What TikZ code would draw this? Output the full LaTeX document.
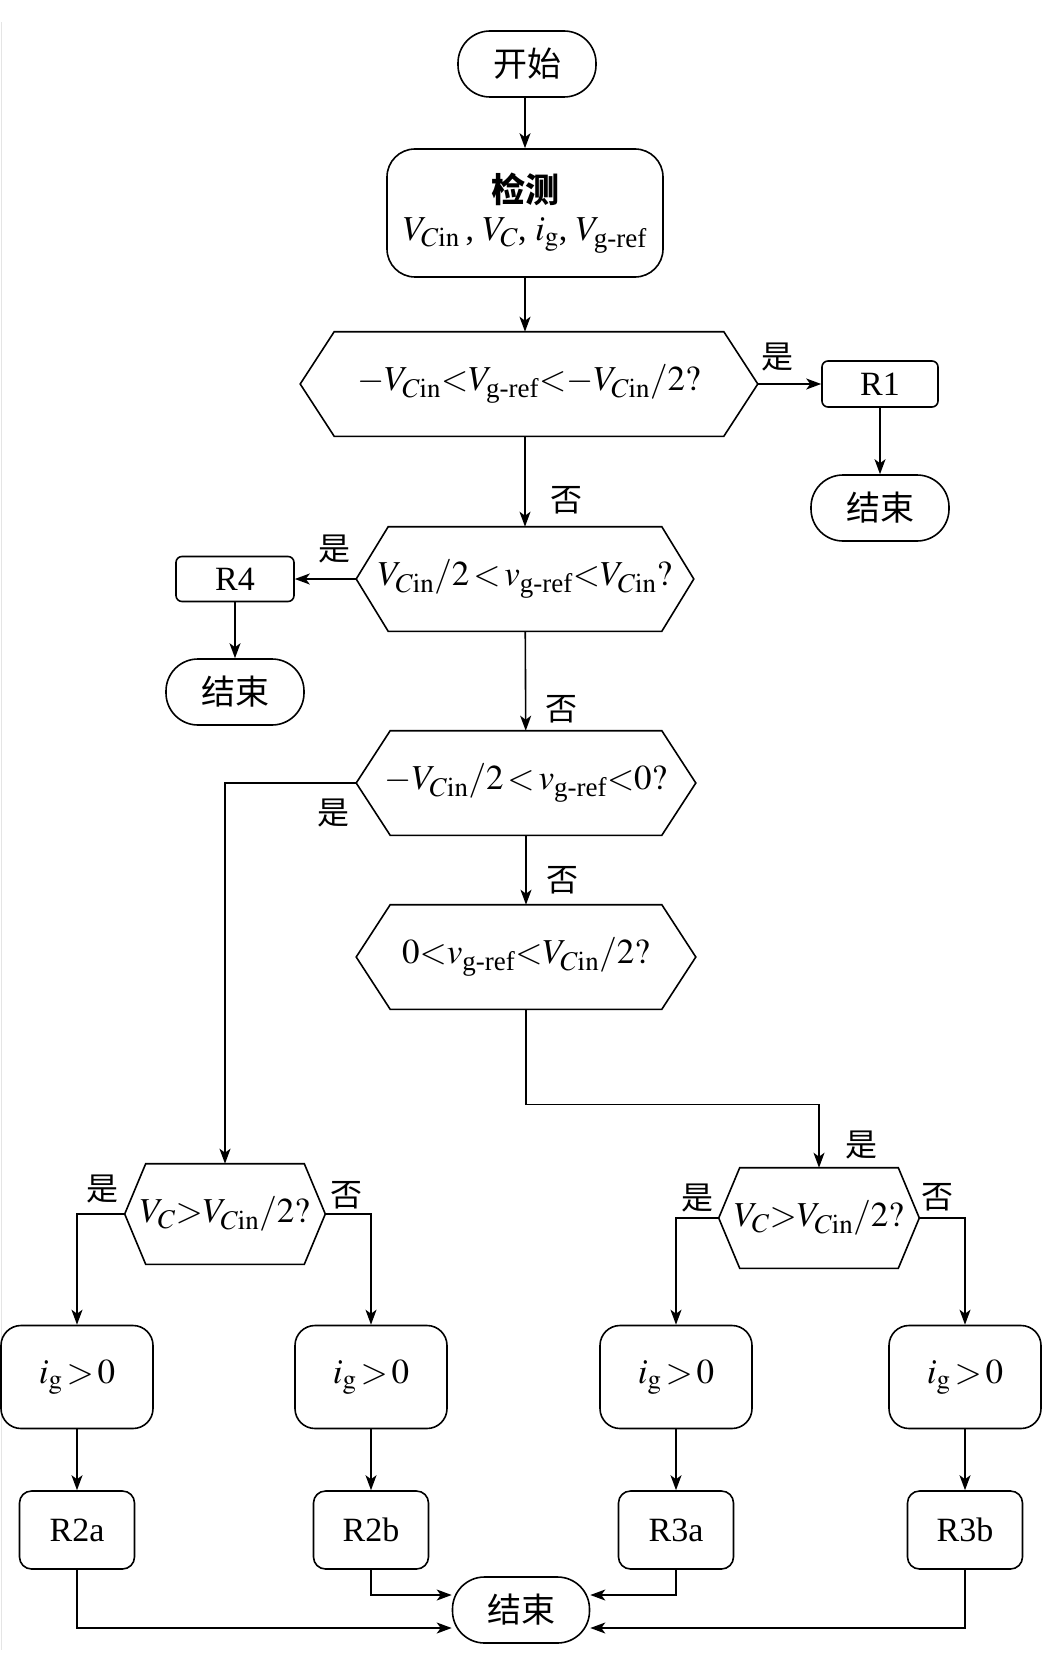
\documentclass[tikz,border=0pt]{standalone}
\usepackage{amsmath}
\usepackage{mathptmx}
\usepackage{fontspec}
\setmainfont{Liberation Serif}
\newfontfamily\cjk{Noto Sans CJK SC}
\DeclareMathSizes{34}{35}{27}{20}
\usetikzlibrary{arrows.meta,positioning,calc}

\tikzset{
  term/.style={draw, rectangle, rounded corners=32pt, minimum width=138pt, minimum height=66pt, font=\fontsize{34}{40}\selectfont\cjk},
  proc/.style={draw, rectangle, rounded corners=#1, inner sep=0pt},
  hexa/.style={rectangle, inner ysep=0pt, inner xsep=-40pt, minimum height=103pt},
  lab/.style={font=\fontsize{32}{38}\selectfont\cjk, inner sep=0pt},
  arr/.style={-{Stealth[length=15pt,width=11pt,inset=4pt]}},
}
% hexagon round a text node: name, tip length
\newcommand\hexdraw[2]{%
  \draw (#1.north west) -- (#1.north east) -- ([xshift=#2]#1.east) coordinate (#1-r)
    -- (#1.south east) -- (#1.south west) -- ([xshift=-#2]#1.west) coordinate (#1-l) -- cycle;}

\begin{document}
\begin{tikzpicture}[x=1pt, y=-1pt, line width=1.6pt, font=\fontsize{34}{40}\selectfont]
\useasboundingbox (0,0) rectangle (1043,1669);
\draw[black!10, line width=1pt] (1,22) -- (1,1650);

% top part
\node[term] (start) at (527,64) {开始};
\node[proc=28pt, minimum width=276pt, minimum height=128pt, align=center] (detect) at (525,213)
  {{\cjk\bfseries 检测}\\[-2pt]$V_{C\mathrm{in}}$\,, $V_C$, $i_{\mathrm{g}}$, $V_{\text{g-ref}}$};

\node[hexa, minimum width=388pt] (q1) at (529,384)
  {$-V_{C\mathrm{in}}{<}V_{\text{g-ref}}{<}{-}V_{C\mathrm{in}}/2?$};
\hexdraw{q1}{34pt}
\node[proc=6pt, minimum width=116pt, minimum height=46pt] (r1) at (880,384) {R1};
\node[term] (end1) at (880,508) {结束};

\node[hexa, minimum width=272pt] (q2) at (525,579)
  {$V_{C\mathrm{in}}/2\,{<}\,v_{\text{g-ref}}{<}V_{C\mathrm{in}}?$};
\hexdraw{q2}{32pt}
\node[proc=6pt, minimum width=118pt, minimum height=45pt] (r4) at (235,579) {R4};
\node[term] (end2) at (235,692) {结束};

\node[hexa, minimum width=270pt] (q3) at (526,783)
  {$-V_{C\mathrm{in}}/2\,{<}\,v_{\text{g-ref}}{<}0?$};
\hexdraw{q3}{34pt}
\node[hexa, minimum width=270pt] (q4) at (526,957)
  {$0{<}v_{\text{g-ref}}{<}V_{C\mathrm{in}}/2?$};
\hexdraw{q4}{34pt}

% lower branches
\node[hexa, minimum width=157pt, minimum height=99pt] (qa) at (225,1214) {$V_C{>}V_{C\mathrm{in}}/2?$};
\hexdraw{qa}{21pt}
\node[hexa, minimum width=157pt, minimum height=99pt] (qb) at (819,1218) {$V_C{>}V_{C\mathrm{in}}/2?$};
\hexdraw{qb}{21pt}

\foreach \n/\x in {1/77,2/371,3/676,4/965}
  \node[proc=20pt, minimum width=152pt, minimum height=103pt] (ig\n) at (\x,1377) {$i_{\mathrm{g}}\,{>}\,0$};
\foreach \n/\x/\t in {1/77/R2a,2/371/R2b,3/676/R3a,4/965/R3b}
  \node[proc=12pt, minimum width=115pt, minimum height=78pt] (rr\n) at (\x,1530) {\t};
\node[term, minimum width=137pt] (endc) at (521,1610) {结束};

% labels
\node[lab] at (777,357) {是};
\node[lab] at (566,500) {否};
\node[lab] at (334,549) {是};
\node[lab] at (561,709) {否};
\node[lab] at (333,813) {是};
\node[lab] at (562,880) {否};
\node[lab] at (861,1145) {是};
\node[lab] at (102,1189) {是};
\node[lab] at (346,1195) {否};
\node[lab] at (697,1198) {是};
\node[lab] at (937,1197) {否};

% connectors
\draw[arr] (start.south -| detect) -- (detect);
\draw[arr] (detect) -- (detect |- q1.north);
\draw[arr] (q1-r) -- (r1);
\draw[arr] (r1) -- (end1);
\draw[arr] (q1.south -| q2) -- (q2);
\draw[arr] (q2-l) -- (r4);
\draw[arr] (r4) -- (end2);
\draw[arr] (q2) -- (q3);
\draw[arr] (q3-l) -| (qa.north);
\draw[arr] (q3) -- (q4);
\draw[arr] (q4.south) -- ++(0,95) -| (qb.north);
\draw[arr] (qa-l) -| (ig1);
\draw[arr] (qa-r) -| (ig2);
\draw[arr] (qb-l) -| (ig3);
\draw[arr] (qb-r) -| (ig4);
\foreach \n in {1,...,4} \draw[arr] (ig\n) -- (rr\n);
\draw[arr] (rr1) |- ([yshift=-18pt]endc.west);
\draw[arr] (rr2) |- ([yshift=15pt]endc.west);
\draw[arr] (rr3) |- ([yshift=15pt]endc.east);
\draw[arr] (rr4) |- ([yshift=-18pt]endc.east);
\end{tikzpicture}
\end{document}
